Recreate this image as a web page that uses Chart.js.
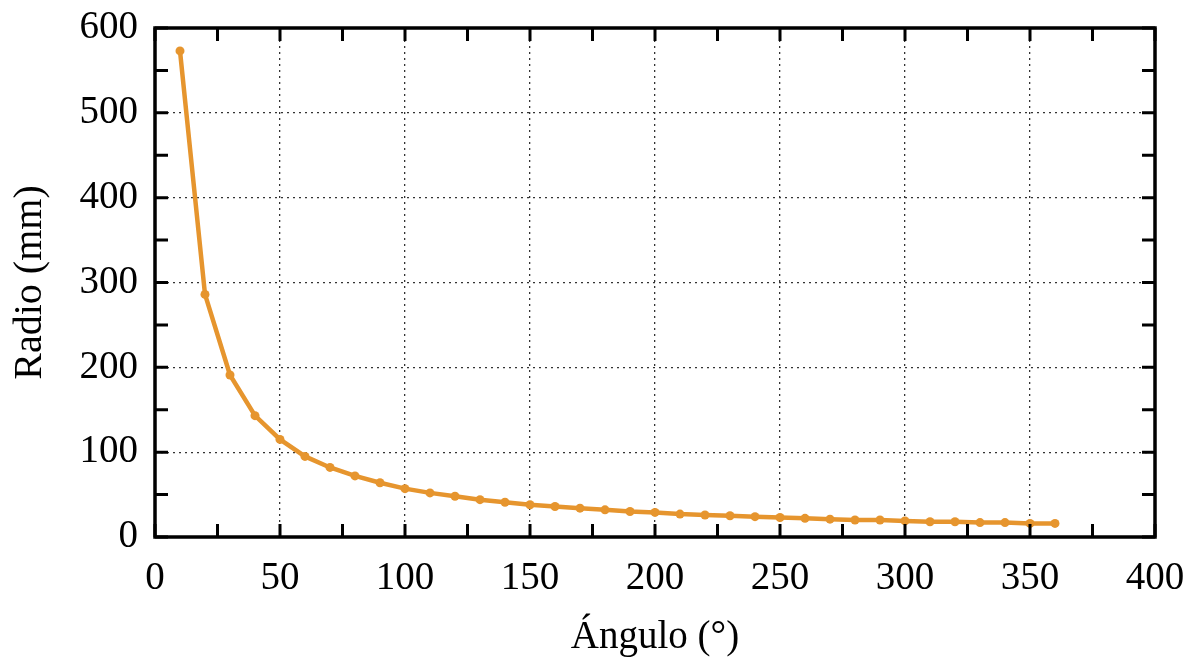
<!DOCTYPE html>
<html>
<head>
<meta charset="utf-8">
<title>Radio vs Ángulo</title>
<script src="https://cdn.jsdelivr.net/npm/chart.js@4.4.1/dist/chart.umd.min.js"></script>
<style>
    html, body { margin: 0; padding: 0; background: #fff; }
    #wrap { width: 1195px; height: 661px; }
</style>
</head>
<body>
<div id="wrap"><canvas id="radioChart" width="1195" height="661"></canvas></div>
<script>
// Angle in degrees and the resulting radius in mm
const angulos = [10, 20, 30, 40, 50, 60, 70, 80, 90, 100, 110, 120, 130, 140, 150, 160, 170, 180,
                 190, 200, 210, 220, 230, 240, 250, 260, 270, 280, 290, 300, 310, 320, 330, 340, 350, 360];
const radioMedido = [573, 286, 191, 143, 115, 95, 82, 72, 64, 57, 52, 48, 44, 41, 38, 36, 34, 32,
                     30, 29, 27, 26, 25, 24, 23, 22, 21, 20, 20, 19, 18, 18, 17, 17, 16, 16];
const radioCalculado = [573, 286, 191, 143, 115, 95, 82, 72, 64, 57, 52, 48, 44, 41, 38, 36, 34, 32,
                        30, 29, 27, 26, 25, 24, 23, 22, 21, 20, 20, 19, 18, 18, 17, 17, 16, 16];

const xTicks = [0, 25, 50, 75, 100, 125, 150, 175, 200, 225, 250, 275, 300, 325, 350, 375, 400];
const yTicks = [0, 50, 100, 150, 200, 250, 300, 350, 400, 450, 500, 550, 600];

const serif = "'Liberation Serif', 'DejaVu Serif', serif";

function toPoints(xs, ys) {
    return xs.map((x, i) => ({ x: x, y: ys[i] }));
}

// Dotted grid only on interior major lines
function gridColor(ctx, last) {
    const v = ctx.tick ? ctx.tick.value : null;
    if (v === 0 || v === last) return 'rgba(0,0,0,0)';
    return '#333';
}

// Frame around the plot plus inward tick marks on all four sides
const framePlugin = {
    id: 'frame',
    afterDraw(chart) {
        const { ctx, chartArea: a, scales } = chart;
        const len = 13;
        ctx.save();
        ctx.strokeStyle = '#000';
        ctx.lineWidth = 3;
        ctx.beginPath();
        xTicks.forEach(v => {
            const px = scales.x.getPixelForValue(v);
            ctx.moveTo(px, a.bottom); ctx.lineTo(px, a.bottom - len);
            ctx.moveTo(px, a.top); ctx.lineTo(px, a.top + len);
        });
        yTicks.forEach(v => {
            const py = scales.y.getPixelForValue(v);
            ctx.moveTo(a.left, py); ctx.lineTo(a.left + len, py);
            ctx.moveTo(a.right, py); ctx.lineTo(a.right - len, py);
        });
        ctx.stroke();
        ctx.lineWidth = 3.5;
        ctx.strokeRect(a.left, a.top, a.right - a.left, a.bottom - a.top);
        ctx.restore();
    }
};

new Chart(document.getElementById('radioChart').getContext('2d'), {
    type: 'scatter',
    data: {
        datasets: [{
            label: 'Medido',
            data: toPoints(angulos, radioMedido),
            showLine: true,
            borderColor: '#E6952E',
            backgroundColor: '#E6952E',
            borderWidth: 4.5,
            pointRadius: 4.5,
            pointBorderWidth: 0,
            tension: 0
        }, {
            label: 'Calculado',
            data: toPoints(angulos, radioCalculado),
            showLine: true,
            borderColor: 'rgba(130,135,80,0.35)',
            backgroundColor: 'rgba(130,135,80,0.45)',
            borderWidth: 1.5,
            pointRadius: 2.8,
            pointBorderWidth: 0,
            tension: 0
        }]
    },
    options: {
        responsive: false,
        animation: false,
        layout: { padding: { top: 28, right: 40, bottom: 0, left: 0 } },
        plugins: {
            legend: { display: false },
            tooltip: { enabled: false }
        },
        scales: {
            x: {
                type: 'linear',
                min: 0,
                max: 400,
                afterFit(scale) {
                    scale.height = 124;
                    scale.paddingLeft = 0;
                    scale.paddingRight = 0;
                },
                grid: {
                    drawTicks: false,
                    color: ctx => gridColor(ctx, 400),
                    lineWidth: 1.3
                },
                border: { display: false, dash: [2, 4] },
                ticks: {
                    stepSize: 50,
                    padding: 18,
                    color: '#000',
                    maxRotation: 0,
                    font: { family: serif, size: 39 }
                },
                title: {
                    display: true,
                    text: 'Ángulo (°)',
                    color: '#000',
                    padding: { top: 0, bottom: 0 },
                    font: { family: serif, size: 39 }
                }
            },
            y: {
                type: 'linear',
                min: 0,
                max: 600,
                afterFit(scale) {
                    scale.width = 155;
                    scale.paddingTop = 0;
                    scale.paddingBottom = 0;
                },
                grid: {
                    drawTicks: false,
                    color: ctx => gridColor(ctx, 600),
                    lineWidth: 1.3
                },
                border: { display: false, dash: [2, 4] },
                ticks: {
                    stepSize: 100,
                    padding: 17,
                    color: '#000',
                    font: { family: serif, size: 39 }
                },
                title: {
                    display: true,
                    text: 'Radio (mm)',
                    color: '#000',
                    padding: { top: 6, bottom: 0 },
                    font: { family: serif, size: 40 }
                }
            }
        }
    },
    plugins: [framePlugin]
});
</script>
</body>
</html>
